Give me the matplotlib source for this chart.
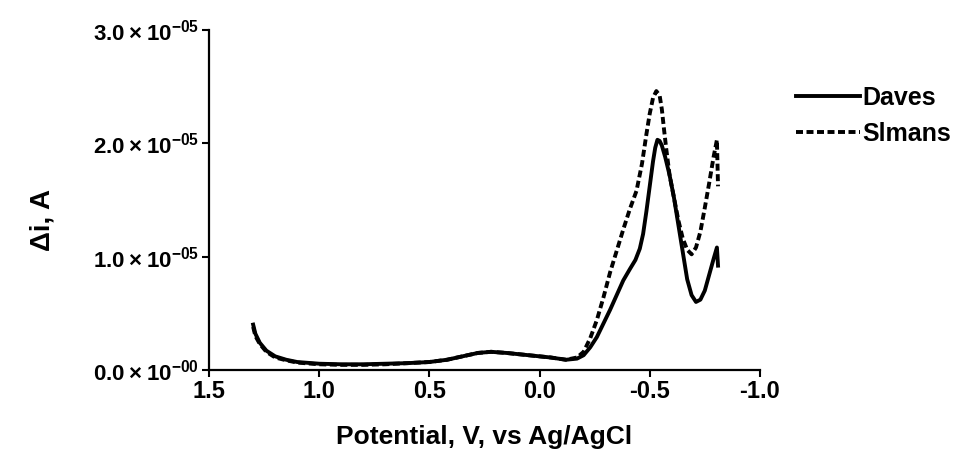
import matplotlib
matplotlib.use("Agg")
import matplotlib.pyplot as plt
from matplotlib.ticker import FuncFormatter

plt.rcParams['font.family'] = ['Liberation Sans', 'DejaVu Sans']
plt.rcParams['font.weight'] = 'bold'
plt.rcParams['mathtext.fontset'] = 'custom'
plt.rcParams['mathtext.rm'] = 'Liberation Sans:bold'
plt.rcParams['mathtext.default'] = 'rm'

# potential (V vs Ag/AgCl) and current (units of 1e-5 A)
daves_v = [1.30, 1.29, 1.27, 1.24, 1.20, 1.15, 1.10, 1.00, 0.90, 0.80, 0.70, 0.60, 0.50,
           0.42, 0.35, 0.28, 0.22, 0.15, 0.05, -0.05, -0.12, -0.17, -0.20, -0.23, -0.26,
           -0.29, -0.32, -0.35, -0.38, -0.41, -0.435, -0.455, -0.47, -0.485, -0.50, -0.515,
           -0.525, -0.535, -0.545, -0.555, -0.57, -0.59, -0.61, -0.63, -0.65, -0.67, -0.69,
           -0.71, -0.73, -0.75, -0.77, -0.79, -0.805, -0.81]
daves_i = [0.40, 0.32, 0.24, 0.17, 0.12, 0.09, 0.07, 0.055, 0.05, 0.05, 0.055, 0.06, 0.07,
           0.09, 0.12, 0.15, 0.16, 0.15, 0.13, 0.11, 0.09, 0.10, 0.13, 0.20, 0.29,
           0.41, 0.53, 0.66, 0.79, 0.89, 0.97, 1.07, 1.20, 1.40, 1.62, 1.84,
           1.96, 2.03, 2.02, 1.98, 1.88, 1.72, 1.52, 1.28, 1.04, 0.80, 0.66,
           0.60, 0.62, 0.70, 0.84, 0.98, 1.08, 0.92]

slmans_v = [1.30, 1.29, 1.27, 1.24, 1.20, 1.15, 1.10, 1.00, 0.90, 0.80, 0.70, 0.60, 0.50,
            0.42, 0.35, 0.28, 0.22, 0.15, 0.05, -0.05, -0.12, -0.17, -0.20, -0.23, -0.26,
            -0.29, -0.32, -0.35, -0.38, -0.41, -0.44, -0.465, -0.485, -0.50, -0.515, -0.53,
            -0.545, -0.555, -0.565, -0.575, -0.59, -0.61, -0.63, -0.65, -0.67, -0.69, -0.71,
            -0.73, -0.75, -0.77, -0.79, -0.805, -0.81]
slmans_i = [0.38, 0.30, 0.23, 0.16, 0.11, 0.085, 0.065, 0.05, 0.045, 0.045, 0.05, 0.06, 0.07,
            0.09, 0.12, 0.15, 0.16, 0.15, 0.13, 0.11, 0.09, 0.11, 0.16, 0.28, 0.44,
            0.64, 0.86, 1.05, 1.24, 1.42, 1.58, 1.82, 2.08, 2.26, 2.40, 2.46,
            2.42, 2.30, 2.12, 1.95, 1.72, 1.52, 1.32, 1.16, 1.06, 1.02, 1.08,
            1.22, 1.43, 1.65, 1.88, 2.03, 1.62]

x_ticks = [1.5, 1.0, 0.5, 0.0, -0.5, -1.0]
y_ticks = [0.0, 1.0e-5, 2.0e-5, 3.0e-5]

fig = plt.figure(figsize=(9.68, 4.59), dpi=100)
ax = fig.add_axes([0.216, 0.194, 0.569, 0.741])

ax.plot(daves_v, [v * 1e-5 for v in daves_i], color='black', lw=2.8, label='Daves')
ax.plot(slmans_v, [v * 1e-5 for v in slmans_i], color='black', lw=2.8,
        dashes=(1.8, 0.9), label='Slmans')

ax.set_xlim(1.5, -1.0)
ax.set_ylim(0, 3.0e-5)
ax.set_xticks(x_ticks)
ax.set_xticklabels([f"{t:.1f}" for t in x_ticks])
ax.set_yticks(y_ticks)


def fmt(v, pos):
    m = v / 1e-5
    ex = "-00" if m == 0 else "-05"
    return rf"${m:.1f}\times10^{{{ex}}}$"


ax.yaxis.set_major_formatter(FuncFormatter(fmt))

ax.spines['top'].set_visible(False)
ax.spines['right'].set_visible(False)
ax.spines['left'].set_linewidth(1.6)
ax.spines['bottom'].set_linewidth(1.6)
ax.tick_params(axis='x', direction='out', length=5, width=1.5, labelsize=17, pad=2)
ax.tick_params(axis='y', direction='out', length=5, width=1.5, labelsize=16, pad=2)

ax.set_xlabel("Potential, V, vs Ag/AgCl", fontsize=19, fontweight='bold', labelpad=16)
ax.set_ylabel("Δi, A", fontsize=20, fontweight='bold')
ax.yaxis.set_label_coords(-0.278, 0.44)

fig.legend(loc='upper left', bbox_to_anchor=(0.812, 0.835), frameon=False,
           fontsize=18, handlelength=2.55, handletextpad=0.1, labelspacing=0.5,
           borderaxespad=0)

fig.savefig("out.png", dpi=100)
